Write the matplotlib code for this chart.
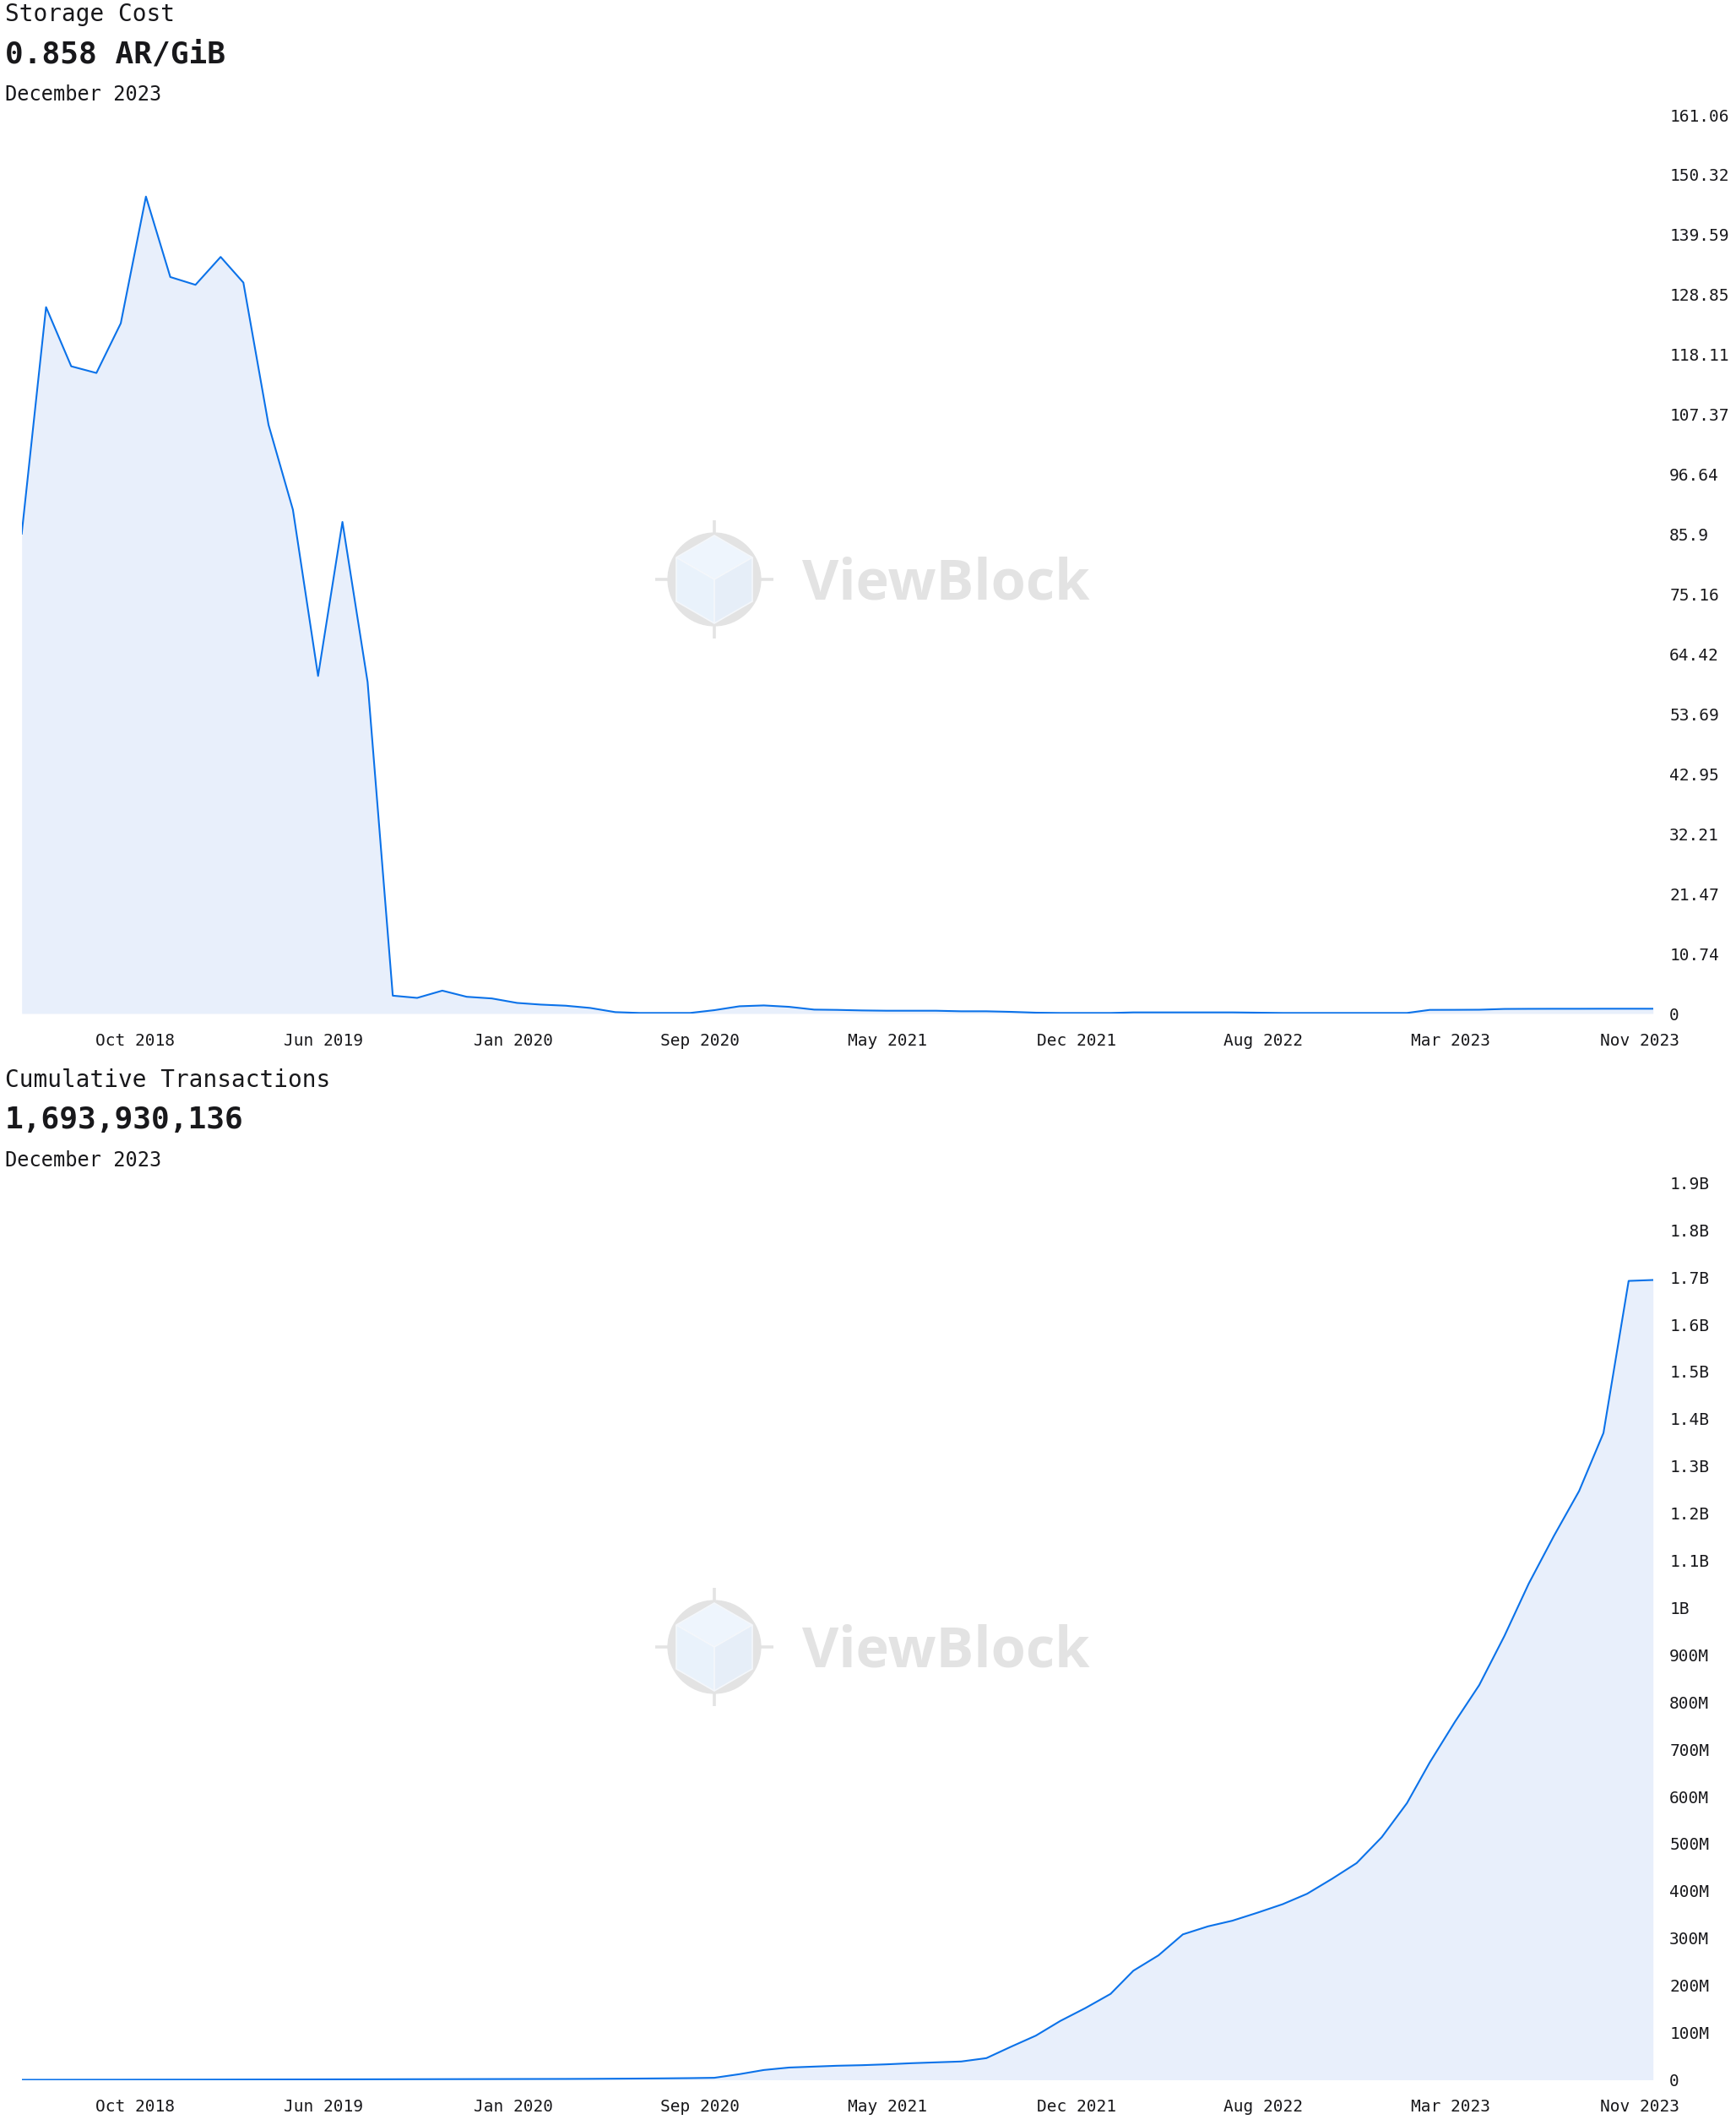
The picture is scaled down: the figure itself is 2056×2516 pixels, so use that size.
import numpy as np
import pandas as pd
import matplotlib
matplotlib.use("Agg")
import matplotlib.pyplot as plt
import matplotlib.dates as mdates
from matplotlib.patches import Circle, Polygon
from matplotlib.ticker import FuncFormatter, FixedLocator

plt.rcParams["font.family"] = ["DejaVu Sans Mono"]

# ------------------------------------------------------------
# Data (monthly, Jun 2018 .. Dec 2023)
# ------------------------------------------------------------
months = pd.date_range("2018-06-01", "2023-12-01", freq="MS")

storage_cost = [
    86.0, 126.6, 116.0, 114.8, 123.7, 146.419, 132.0, 130.6, 135.6, 131.0,
    105.5, 90.3, 60.5, 88.1, 59.4, 3.2, 2.8, 4.1, 3.0, 2.7,
    1.9, 1.6, 1.4, 1.0, 0.25, 0.1, 0.1, 0.1, 0.6, 1.3,
    1.45, 1.2, 0.7, 0.65, 0.55, 0.5, 0.5, 0.5, 0.4, 0.4,
    0.3, 0.15, 0.1, 0.1, 0.1, 0.2, 0.2, 0.2, 0.2, 0.2,
    0.15, 0.1, 0.1, 0.1, 0.1, 0.1, 0.1, 0.65, 0.66, 0.68,
    0.82, 0.84, 0.85, 0.85, 0.86, 0.86, 0.858,
]

cum_tx_millions = [
    0.02, 0.05, 0.1, 0.15, 0.2, 0.3, 0.35, 0.4, 0.5, 0.6,
    0.7, 0.8, 0.9, 1.0, 1.1, 1.2, 1.3, 1.4, 1.5, 1.6,
    1.7, 1.8, 1.9, 2.1, 2.4, 2.7, 3.1, 3.6, 4.3, 12.0,
    20.8, 26.0, 28.0, 29.8, 31.0, 32.8, 35.2, 37.0, 38.8, 45.9,
    69.8, 93.6, 124.6, 152.0, 182.0, 231.0, 263.6, 308.0, 325.0, 337.0,
    354.0, 372.0, 394.0, 426.0, 459.0, 514.0, 586.0, 672.0, 758.0, 836.0,
    940.0, 1051.0, 1152.0, 1247.0, 1370.0, 1692.0, 1693.930136,
]
cum_tx = np.array(cum_tx_millions) * 1e6

x_tick_dates = pd.to_datetime([
    "2018-10-19", "2019-06-08", "2020-01-27", "2020-09-13", "2021-05-02",
    "2021-12-21", "2022-08-08", "2023-03-27", "2023-11-15",
])

LINE = "#0b72e9"
FILL = "#e8effb"
TEXT = "#18181b"
WM = "#e3e3e3"

W, H = 2056, 2516
fig = plt.figure(figsize=(W / 100, H / 100), dpi=100)


def px_rect(left, top, right, bottom):
    return [left / W, 1 - bottom / H, (right - left) / W, (bottom - top) / H]


def fmt_cost(v, pos):
    return f"{v:.2f}".rstrip("0").rstrip(".")


def fmt_count(v, pos):
    if v == 0:
        return "0"
    if v >= 1e9:
        return f"{v / 1e9:.1f}".rstrip("0").rstrip(".") + "B"
    return f"{v / 1e6:.0f}M"


def style_axes(ax):
    ax.set_facecolor("none")
    for s in ax.spines.values():
        s.set_visible(False)
    ax.yaxis.tick_right()
    ax.tick_params(axis="y", length=0, pad=14, labelsize=14, labelcolor=TEXT)
    ax.tick_params(axis="x", length=0, pad=16.5, labelsize=14, labelcolor=TEXT)
    ax.xaxis.set_major_locator(FixedLocator(mdates.date2num(x_tick_dates)))
    ax.xaxis.set_major_formatter(mdates.DateFormatter("%b %Y"))
    ax.set_xlim(months[0], months[-1])


def watermark(cy):
    # logo
    cx = 846
    lax = fig.add_axes(px_rect(cx - 80, cy - 80, cx + 80, cy + 80), zorder=-2)
    lax.set_xlim(-80, 80)
    lax.set_ylim(-80, 80)
    lax.axis("off")
    lax.add_patch(Circle((0, 0), 55.6, color=WM, lw=0))
    for dx, dy in [(0, 1), (0, -1), (1, 0), (-1, 0)]:
        lax.plot([dx * 54, dx * 70], [dy * 54, dy * 70], color=WM, lw=2.6,
                 solid_capstyle="butt")
    r = 52
    hx = r * np.cos(np.radians(30))
    top = [(0, 0), (-hx, r / 2), (0, r), (hx, r / 2)]
    left = [(0, 0), (-hx, r / 2), (-hx, -r / 2), (0, -r)]
    right = [(0, 0), (hx, r / 2), (hx, -r / 2), (0, -r)]
    for pts, c in [(top, "#eef5fd"), (left, "#e9f2fb"), (right, "#e6eef8")]:
        lax.add_patch(Polygon(pts, closed=True, facecolor=c,
                              edgecolor="#f4f7fb", lw=1.2))
    fig.text(950 / W, 1 - (cy + 23) / H, "ViewBlock", fontsize=48,
             family="Open Sans", fontweight="bold", color=WM,
             ha="left", va="baseline", zorder=-2)


def header(y0, title, value, date):
    fig.text(6 / W, 1 - (y0 + 25) / H, title, fontsize=20, color=TEXT,
             ha="left", va="baseline")
    fig.text(6 / W, 1 - (y0 + 74) / H, value, fontsize=26, fontweight="bold",
             color=TEXT, ha="left", va="baseline")
    fig.text(6 / W, 1 - (y0 + 119) / H, date, fontsize=17, color=TEXT,
             ha="left", va="baseline")


# ------------------------------------------------------------
# Storage cost
# ------------------------------------------------------------
header(0, "Storage Cost", "0.858 AR/GiB", "December 2023")
watermark(686)

ax1 = fig.add_axes(px_rect(25.7, 136, 1957.7, 1200))
ax1.fill_between(months, 0, storage_cost, color=FILL, lw=0)
ax1.plot(months, storage_cost, color=LINE, lw=1.5)
cost_max = max(storage_cost) * 1.1
ax1.set_ylim(0, cost_max)
ax1.yaxis.set_major_locator(FixedLocator(np.linspace(0, cost_max, 16)))
ax1.yaxis.set_major_formatter(FuncFormatter(fmt_cost))
style_axes(ax1)

# ------------------------------------------------------------
# Cumulative transactions
# ------------------------------------------------------------
header(1262, "Cumulative Transactions", "1,693,930,136", "December 2023")
watermark(686 + 1264)

ax2 = fig.add_axes(px_rect(25.7, 1400.3, 1957.7, 2462.5))
ax2.fill_between(months, 0, cum_tx, color=FILL, lw=0)
ax2.plot(months, cum_tx, color=LINE, lw=1.5)
ax2.set_ylim(0, 1.9e9)
ax2.yaxis.set_major_locator(FixedLocator(np.arange(0, 1.95e9, 1e8)))
ax2.yaxis.set_major_formatter(FuncFormatter(fmt_count))
style_axes(ax2)

fig.savefig("out.png", dpi=100, facecolor="white")
